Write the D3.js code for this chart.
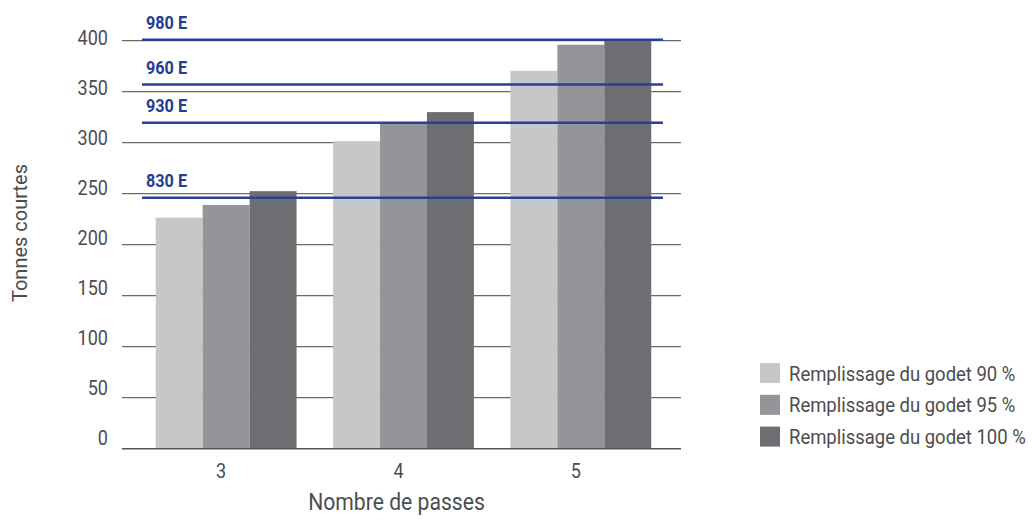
<!DOCTYPE html>
<html>
<head>
<meta charset="utf-8">
<script src="https://cdn.jsdelivr.net/npm/d3@7"></script>
<style>
  html, body { margin: 0; padding: 0; background: #ffffff; }
  svg { display: block; font-family: Roboto, "Noto Sans", sans-serif; }
</style>
</head>
<body>
<svg id="chart" width="1032" height="520"></svg>
<script>
const categories = ["3", "4", "5"];
const seriesNames = ["Remplissage du godet 90 %", "Remplissage du godet 95 %", "Remplissage du godet 100 %"];
const fill90 = [226.5, 301.5, 370.5];
const fill95 = [239, 319, 396];
const fill100 = [252.5, 330, 400.5];
const refLabels = ["980 E", "960 E", "930 E", "830 E"];
const refValues = [401, 357, 319.5, 246];
const yTicks = [0, 50, 100, 150, 200, 250, 300, 350, 400];
const seriesColors = ["#c6c7c9", "#939598", "#6d6e72"];

const series = [fill90, fill95, fill100];

const svg = d3.select("#chart");

const y = d3.scaleLinear().domain([0, 400]).range([448.7, 40.7]);
const yLabel = d3.scaleLinear().domain([0, 400]).range([437, 37]);
const x0 = d3.scaleBand().domain(categories).range([138, 669]).paddingInner(0.206).paddingOuter(0.1);
const x1 = d3.scaleBand().domain(d3.range(series.length)).range([0, x0.bandwidth()]);

const gridL = 122, gridR = 681;
const textColor = "#4d4d4f";

// gridlines
svg.append("g").selectAll("line").data(yTicks.filter(d => d > 0)).join("line")
  .attr("x1", gridL).attr("x2", gridR)
  .attr("y1", d => y(d)).attr("y2", d => y(d))
  .attr("stroke", "#6a6a6a").attr("stroke-width", 1.2);

// y tick labels (condensed)
svg.append("g").selectAll("text").data(yTicks).join("text")
  .attr("transform", d => `translate(108,${yLabel(d)}) scale(0.86,1)`)
  .attr("dy", "0.36em")
  .attr("text-anchor", "end")
  .attr("font-size", 21)
  .attr("fill", textColor)
  .text(d => d);

// bars
const groups = svg.append("g").selectAll("g").data(categories).join("g")
  .attr("transform", c => `translate(${x0(c)},0)`);
groups.selectAll("rect")
  .data((c, i) => series.map((s, k) => ({ k, v: s[i] })))
  .join("rect")
  .attr("x", d => x1(d.k))
  .attr("width", x1.bandwidth())
  .attr("y", d => y(d.v))
  .attr("height", d => y(0) - y(d.v))
  .attr("fill", d => seriesColors[d.k]);

// baseline
svg.append("line")
  .attr("x1", gridL).attr("x2", gridR)
  .attr("y1", y(0)).attr("y2", y(0))
  .attr("stroke", "#555558").attr("stroke-width", 1.5);

// x tick labels
svg.append("g").selectAll("text").data(categories).join("text")
  .attr("transform", c => `translate(${x0(c) + x0.bandwidth() / 2 - 5},470) scale(0.86,1)`)
  .attr("dy", "0.36em")
  .attr("text-anchor", "middle")
  .attr("font-size", 21)
  .attr("fill", textColor)
  .text(c => c);

// reference lines
const refG = svg.append("g");
refG.selectAll("line").data(refValues).join("line")
  .attr("x1", 142).attr("x2", 663)
  .attr("y1", d => y(d)).attr("y2", d => y(d))
  .attr("stroke", "#2b3f98").attr("stroke-width", 2.4);
refG.selectAll("text").data(refValues).join("text")
  .attr("transform", d => `translate(146,${y(d) - 11}) scale(0.9,1)`)
  .attr("font-size", 18)
  .attr("font-weight", 700)
  .attr("fill", "#233d96")
  .text((d, i) => refLabels[i]);

// axis titles
svg.append("text")
  .attr("transform", "translate(396.5,510) scale(0.92,1)")
  .attr("text-anchor", "middle")
  .attr("font-size", 23)
  .attr("fill", textColor)
  .text("Nombre de passes");

svg.append("text")
  .attr("transform", "translate(27,233) rotate(-90)")
  .attr("text-anchor", "middle")
  .attr("font-size", 20)
  .attr("fill", textColor)
  .text("Tonnes courtes");

// legend
const legend = svg.append("g").selectAll("g").data(seriesNames).join("g")
  .attr("transform", (d, i) => `translate(760,${363 + i * 31.8})`);
legend.append("rect").attr("width", 20).attr("height", 20)
  .attr("fill", (d, i) => seriesColors[i]);
legend.append("text")
  .attr("transform", "translate(29,10) scale(0.88,1)")
  .attr("dy", "0.36em")
  .attr("font-size", 21)
  .attr("fill", textColor)
  .text(d => d);
</script>
</body>
</html>
